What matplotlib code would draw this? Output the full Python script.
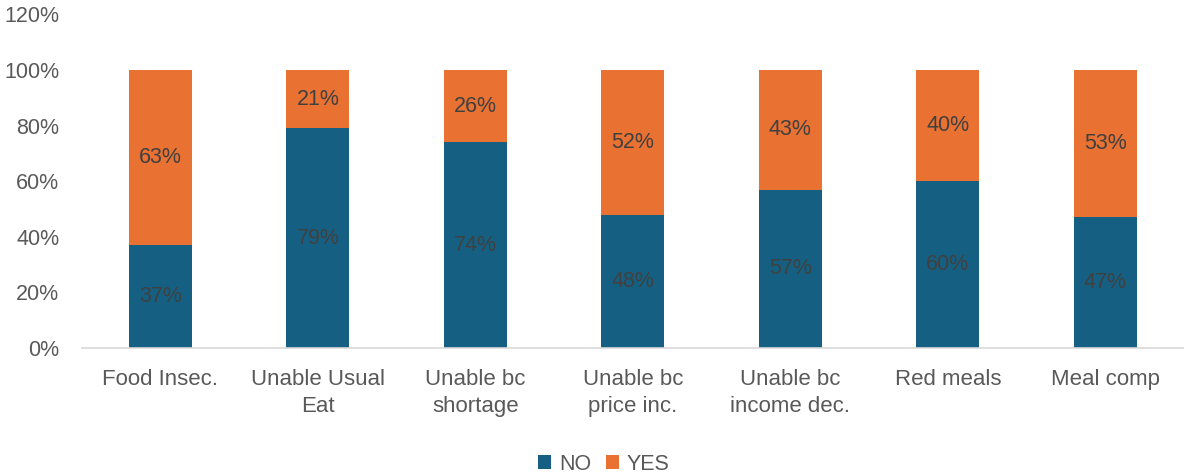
import numpy as np
import matplotlib.pyplot as plt
from matplotlib.ticker import PercentFormatter

categories = ['Food Insec.', 'Unable Usual\nEat', 'Unable bc\nshortage', 'Unable bc\nprice inc.',
              'Unable bc\nincome dec.', 'Red meals', 'Meal comp']
no_vals = [37, 79, 74, 48, 57, 60, 47]
yes_vals = [63, 21, 26, 52, 43, 40, 53]

plt.rcParams['font.family'] = ['Liberation Sans', 'DejaVu Sans']

fig = plt.figure(figsize=(11.84, 4.73), dpi=100)
ax = fig.add_axes([0.069, 0.264, 0.931, 0.706])

x = np.arange(len(categories))
no_bars = ax.bar(x, no_vals, width=0.4, color='#156082', label='NO')
yes_bars = ax.bar(x, yes_vals, width=0.4, bottom=no_vals, color='#E97132', label='YES')

ax.bar_label(no_bars, labels=[f'{v}%' for v in no_vals], label_type='center', color='#404040', fontsize=15.5)
ax.bar_label(yes_bars, labels=[f'{v}%' for v in yes_vals], label_type='center', color='#404040', fontsize=15.5)

ax.set_xlim(-0.5, len(categories) - 0.5)
ax.set_ylim(0, 120)
ax.set_yticks(np.arange(0, 121, 20))
ax.yaxis.set_major_formatter(PercentFormatter(decimals=0))
ax.set_xticks(x)
ax.set_xticklabels(categories, linespacing=1.35, fontsize=16)
ax.tick_params(axis='both', length=0, colors='#595959')
ax.tick_params(axis='y', labelsize=15.5, pad=16)
ax.tick_params(axis='x', pad=15)

for side in ['top', 'right', 'left']:
    ax.spines[side].set_visible(False)
ax.spines['bottom'].set_color('#d9d9d9')
ax.spines['bottom'].set_linewidth(1.2)

leg = fig.legend(loc='lower center', bbox_to_anchor=(0.51, -0.045), ncol=2, frameon=False,
                 fontsize=15.5, handlelength=0.6, handleheight=0.6, handletextpad=0.35, columnspacing=0.7)
for t in leg.get_texts():
    t.set_color('#595959')

fig.savefig('out.png', dpi=100)
